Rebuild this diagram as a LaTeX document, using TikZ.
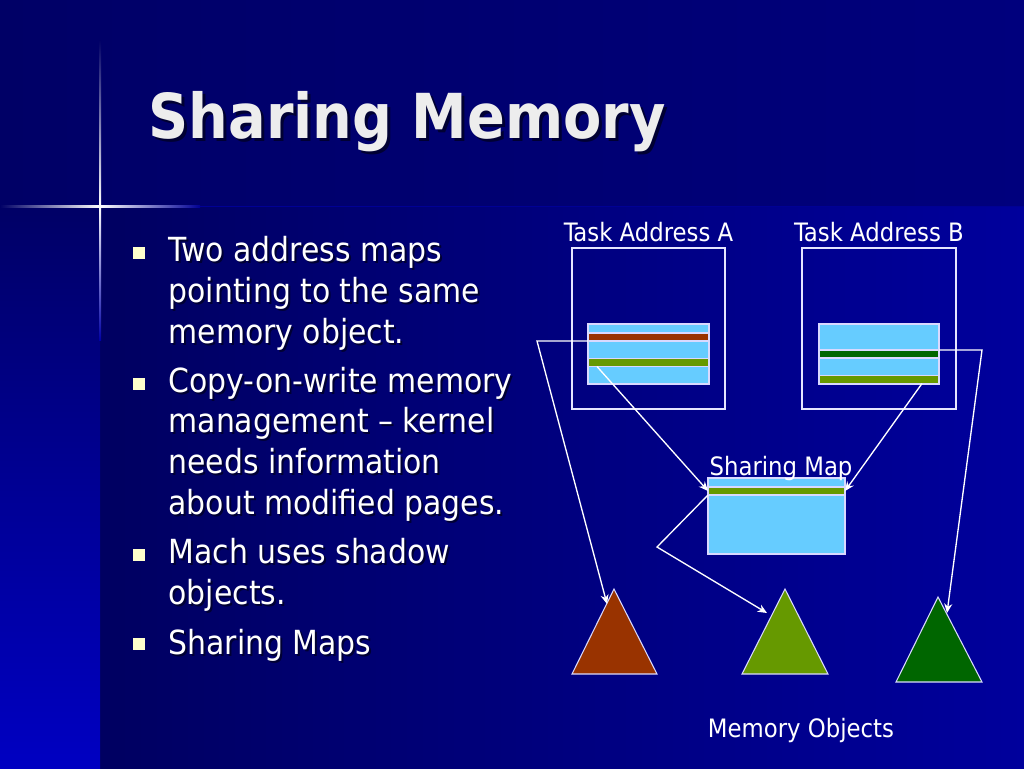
\documentclass[tikz,border=0pt]{standalone}
\usepackage{fontspec}
\setmainfont{DejaVu Sans Condensed}
\usepackage{tikz}
\usetikzlibrary{arrows.meta, positioning}

\definecolor{Navy}{HTML}{000066}
\definecolor{Slide}{HTML}{00009C}
\definecolor{Page}{HTML}{66CCFF}
\definecolor{Rust}{HTML}{993300}
\definecolor{Olive}{HTML}{669900}
\definecolor{Forest}{HTML}{006600}
\definecolor{Bullet}{HTML}{FFFFCC}

\begin{document}
\begin{tikzpicture}[x=0.75pt, y=-0.75pt,
addrmap/.style={rectangle, draw=white!90!blue, line width=1pt,
minimum width=114.75pt, minimum height=120.75pt, inner sep=0pt, outer sep=0pt},
%
pages/.style={rectangle, draw=white!85!blue, fill=Page, line width=0.8pt,
minimum width=90.75pt, minimum height=45pt, inner sep=0pt, outer sep=0pt},
%
entry/.style={rectangle, draw=white!85!blue, line width=0.8pt,
minimum width=90.75pt, minimum height=6pt, inner sep=0pt, outer sep=0pt},
%
label/.style={text=white, inner sep=0pt, font=\fontsize{19}{22}\selectfont},
%
point/.style={text=white, inner sep=0pt, anchor=base west, align=left,
font=\fontsize{24.9}{30.4}\selectfont},
%
shade/.style={text=black!80!blue, inner sep=0pt, anchor=base west, align=left,
font=\fontsize{24.9}{30.4}\selectfont},
%
bullet/.style={rectangle, fill=Bullet, minimum size=9pt, inner sep=0pt},
%
object/.style={draw=white!85!blue, line width=0.8pt}]

\tikzset{every path/.style={line width=1pt}}
\tikzset{>={Stealth[length=7pt, width=6pt]}}

\useasboundingbox (0,0) rectangle (1024,768);

\begin{scope}
  % background
  \fill [left color=Navy, right color=Navy!85!blue] (0,0) rectangle (1024,206);
  \fill [left color=Navy!95!black, right color=Slide] (100,206) rectangle (1024,768);
  \fill [top color=Navy, bottom color=Navy!40!blue] (0,206) rectangle (100,768);
  %%%%%%%%%%%%%%%%%%%%%%%%%%%%%%
  \fill [top color=Navy, bottom color=white] (99,40) rectangle (101,206);
  \fill [top color=white, bottom color=Navy!60!blue] (99,206) rectangle (101,340);
  \fill [left color=Navy, right color=white] (0,205) rectangle (100,207);
  \fill [left color=white, right color=Navy!70!blue] (100,205) rectangle (200,207);
  \fill [Navy!70!blue] (200,205.5) rectangle (1024,206.5);
\end{scope}

\begin{scope}
  % title and bullets
  \node [anchor=base west, inner sep=0pt, text=black!80!blue,
    font=\fontsize{46.5}{52}\selectfont\bfseries] at (151,141) {Sharing Memory};
  \node [anchor=base west, inner sep=0pt, text=white!93!black,
    font=\fontsize{46.5}{52}\selectfont\bfseries] (title) at (148,138) {Sharing Memory};
  %%%%%%%%%%%%%%%%%%%%%%%%%%%%%%
  \node [shade] at (170,345) {Two address maps\\pointing to the same\\memory object.};
  \node [shade] at (170,516) {Copy-on-write memory\\management -- kernel\\needs information\\about modified pages.};
  \node [shade] at (170,606) {Mach uses shadow\\objects.};
  \node [shade] at (170,656) {Sharing Maps};
  \node [point] (pointA) at (168,343) {Two address maps\\pointing to the same\\memory object.};
  \node [point] (pointB) at (168,514) {Copy-on-write memory\\management -- kernel\\needs information\\about modified pages.};
  \node [point] (pointC) at (168,604) {Mach uses shadow\\objects.};
  \node [point] (pointD) at (168,654) {Sharing Maps};
  %%%%%%%%%%%%%%%%%%%%%%%%%%%%%%
  \node [bullet] (bulletA) at (138.5,253) {};
  \node [bullet] (bulletB) at (138.5,384) {};
  \node [bullet] (bulletC) at (138.5,555) {};
  \node [bullet] (bulletD) at (138.5,644) {};
\end{scope}

\begin{scope}
  % address maps
  \node [addrmap] (taskA) at (648.5,328.5) {};
  \node [addrmap, minimum width=115.5pt] (taskB) at (879,328.5) {};
  \node [label, above=4pt of taskA] (labelA) {Task Address A};
  \node [label, above=4pt of taskB] (labelB) {Task Address B};
  %%%%%%%%%%%%%%%%%%%%%%%%%%%%%%
  \node [pages] (pagesA) at (648.5,354) {};
  \node [entry, fill=Rust] (rustA) at (648.5,337) {};
  \node [entry, fill=Olive] (oliveA) at (648.5,362.5) {};
  %%%%%%%%%%%%%%%%%%%%%%%%%%%%%%
  \node [pages, minimum width=90pt] (pagesB) at (879,354) {};
  \node [entry, fill=Forest, minimum width=90pt] (forestB) at (879,354) {};
  \node [entry, fill=Olive, minimum width=90pt] (oliveB) at (879,379.5) {};
  %%%%%%%%%%%%%%%%%%%%%%%%%%%%%%
  \node [pages, minimum width=102.75pt, minimum height=57pt] (share) at (776.5,516) {};
  \node [entry, fill=Olive, minimum width=102.75pt] (oliveS) at (776.5,491) {};
  \node [label, anchor=base west] (labelS) at (709,475) {Sharing Map};
\end{scope}

\begin{scope}
  % memory objects
  \coordinate (rustTop) at (614,589);
  \coordinate (oliveTop) at (785,589);
  \coordinate (forestTop) at (938,597);
  \filldraw [object, fill=Rust] (572,674) -- (rustTop) -- (657,674) -- cycle;
  \filldraw [object, fill=Olive] (742,674) -- (oliveTop) -- (828,674) -- cycle;
  \filldraw [object, fill=Forest] (896,682) -- (forestTop) -- (982,682) -- cycle;
  \node [label] (labelM) at (801,730) {Memory Objects};
  %%%%%%%%%%%%%%%%%%%%%%%%%%%%%%
  \coordinate (rustIn) at (607,604);
  \coordinate (oliveIn) at (767,613);
  \coordinate (forestIn) at (947,613);
  \coordinate (bendA) at (537,341);
  \coordinate (bendB) at (982,350);
  \coordinate (bendS) at (657,547);
\end{scope}

\begin{scope}[white]
   \draw [->] (rustA.south west) -- (bendA) -- (rustIn);
   \draw [->] ([xshift=6.75pt]oliveA.south west) -- (oliveS.west);
   \draw [->] ([xshift=-12.75pt]oliveB.south east) -- (oliveS.east);
   \draw [->] (forestB.north east) -- (bendB) -- (forestIn);
   \draw [->] (oliveS.south west) -- (bendS) -- (oliveIn);
\end{scope}

\end{tikzpicture}
\end{document}
